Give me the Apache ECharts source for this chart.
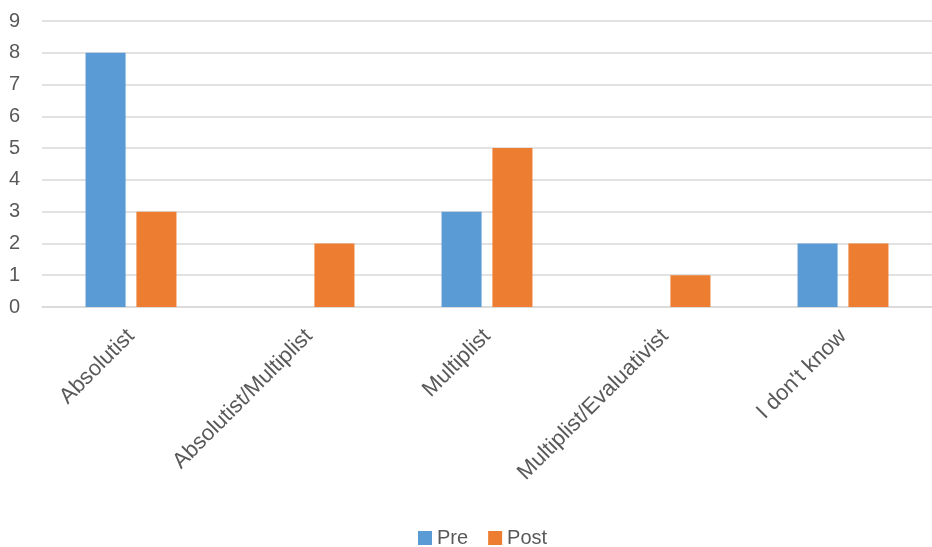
<!DOCTYPE html>
<html>
<head>
<meta charset="utf-8">
<script src="https://cdn.jsdelivr.net/npm/echarts@6/dist/echarts.min.js"></script>
<style>
  html, body { margin: 0; padding: 0; background: #fff; }
  #chart { width: 932px; height: 547px; }
</style>
</head>
<body>
<div id="chart"></div>
<script>
var categories = ['Absolutist', 'Absolutist/Multiplist', 'Multiplist', 'Multiplist/Evaluativist', "I don't know"]
var preValues = [8, 0, 3, 0, 2]
var postValues = [3, 2, 5, 1, 2]
var yTicks = [0, 1, 2, 3, 4, 5, 6, 7, 8, 9]

var fontName = '"Liberation Sans", Arial, sans-serif'
var textColor = '#595959'

var myChart = echarts.init(document.getElementById('chart'))
var option = {
    animation: false,
    textStyle: { fontFamily: fontName },
    legend: {
        data: ['Pre', 'Post'],
        top: 528,
        left: 418,
        padding: 0,
        itemWidth: 14,
        itemHeight: 14,
        itemGap: 20,
        icon: 'rect',
        textStyle: { fontSize: 20, color: textColor, fontFamily: fontName }
    },
    grid: {
        left: 42,
        right: 0,
        top: 21,
        bottom: 240
    },
    xAxis: {
        type: 'category',
        data: categories,
        axisLine: { lineStyle: { color: '#d9d9d9', width: 1.5 } },
        axisTick: { show: false },
        axisLabel: {
            rotate: 45,
            fontSize: 22,
            color: textColor,
            fontFamily: fontName,
            margin: 26,
            interval: 0
        }
    },
    yAxis: {
        type: 'value',
        min: yTicks[0],
        max: yTicks[yTicks.length - 1],
        interval: 1,
        axisLine: { show: false },
        axisTick: { show: false },
        axisLabel: {
            fontSize: 20,
            color: textColor,
            fontFamily: fontName,
            margin: 22
        },
        splitLine: { lineStyle: { color: '#d9d9d9', width: 1.5 } }
    },
    series: [
        {
            name: 'Pre',
            type: 'bar',
            data: preValues,
            barWidth: '22.5%',
            barGap: '27%',
            itemStyle: { color: '#5b9bd5' }
        },
        {
            name: 'Post',
            type: 'bar',
            data: postValues,
            barWidth: '22.5%',
            itemStyle: { color: '#ed7d31' }
        }
    ]
}
myChart.setOption(option)
</script>
</body>
</html>
